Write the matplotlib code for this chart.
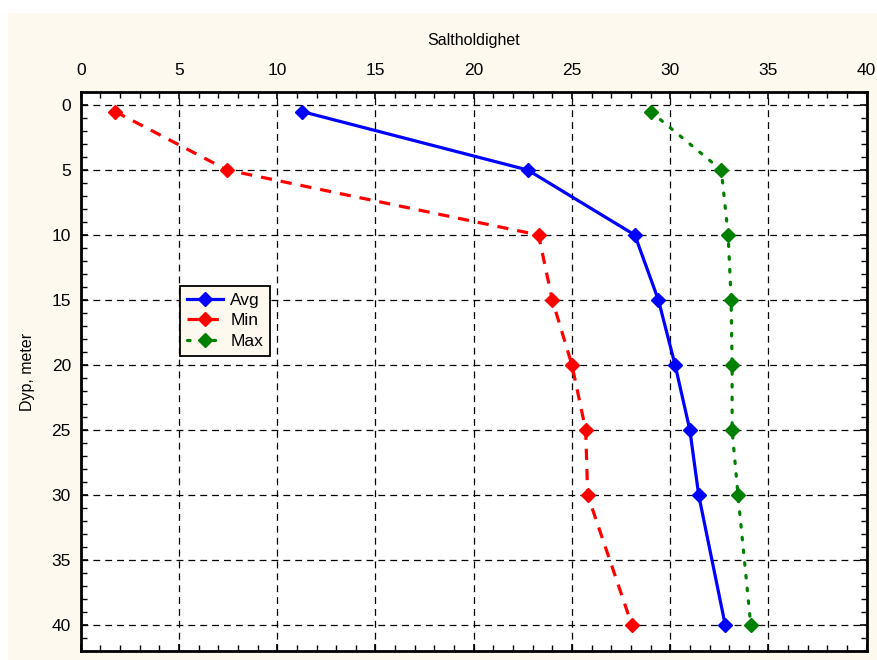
import matplotlib
matplotlib.use("Agg")
import matplotlib.pyplot as plt
from matplotlib.patches import Rectangle
from matplotlib.ticker import MultipleLocator

plt.rcParams['font.family'] = ['Liberation Sans', 'DejaVu Sans']

depth = [0.5, 5, 10, 15, 20, 25, 30, 40]
avg = [11.25, 22.75, 28.2, 29.4, 30.25, 31.0, 31.45, 32.8]
mn = [1.75, 7.45, 23.3, 24.0, 25.0, 25.7, 25.8, 28.05]
mx = [29.0, 32.6, 32.95, 33.1, 33.15, 33.15, 33.45, 34.1]

x_label = "Saltholdighet"
y_label = "Dyp, meter"
x_ticks = [0, 5, 10, 15, 20, 25, 30, 35, 40]
y_ticks = [0, 5, 10, 15, 20, 25, 30, 35, 40]

cream = '#FDF9EE'
W, H = 877, 660
fig = plt.figure(figsize=(W / 100, H / 100), dpi=100, facecolor='white')
bg = Rectangle((8 / W, 0), 1 - 8 / W, 1 - 13 / H, transform=fig.transFigure,
               facecolor=cream, edgecolor='none', zorder=-10)
fig.add_artist(bg)

left, right, top, bottom = 80.7, 866.7, 92, 651
ax = fig.add_axes([left / W, 1 - bottom / H, (right - left) / W, (bottom - top) / H])
ax.set_facecolor('white')

ax.plot(avg, depth, color='#0000FF', lw=2.3, ls='-', marker='D', ms=7.2, label='Avg', zorder=5)
ax.plot(mn, depth, color='#FF0000', lw=2.3, ls=(0, (3.5, 2.8)), marker='D', ms=7.2, label='Min', zorder=5)
ax.plot(mx, depth, color='#008000', lw=2.3, ls=(0, (0.8, 3.2)), marker='D', ms=7.2, label='Max', zorder=5,
        dash_capstyle='round')

ax.set_xlim(0, 40)
ax.set_ylim(42, -1)
ax.set_xticks(x_ticks)
ax.set_yticks(y_ticks)
ax.xaxis.set_minor_locator(MultipleLocator(1))
ax.yaxis.set_minor_locator(MultipleLocator(1))
ax.xaxis.tick_top()
ax.xaxis.set_label_position('top')
ax.tick_params(which='both', direction='in', top=True, bottom=True, left=True, right=True,
               labeltop=True, labelbottom=False, labelleft=True, labelright=False, color='black')
ax.tick_params(which='major', length=5, width=1.2, labelsize=12.5)
ax.tick_params(axis='x', which='major', pad=10)
ax.tick_params(axis='y', which='major', pad=7)
ax.tick_params(which='minor', length=4, width=1.0)

ax.grid(True, which='major', color='black', lw=0.9, ls=(0, (5.5, 4)))
ax.set_axisbelow(True)

for s in ax.spines.values():
    s.set_linewidth(2.0)
    s.set_color('black')

ax.set_xlabel(x_label, fontsize=11.5, labelpad=13)
ax.set_ylabel(y_label, fontsize=11.5, labelpad=12)

leg = ax.legend(loc='upper left', bbox_to_anchor=((180 - left) / (right - left), (bottom - 286) / (bottom - top)),
                fontsize=12.5, frameon=True, fancybox=False, framealpha=1, facecolor=cream,
                edgecolor='black', handlelength=2.1, handletextpad=0.4, labelspacing=0.3,
                borderpad=0.4, borderaxespad=0, numpoints=1)
leg.get_frame().set_linewidth(1.3)

fig.savefig('out.png', dpi=100, facecolor='white')
